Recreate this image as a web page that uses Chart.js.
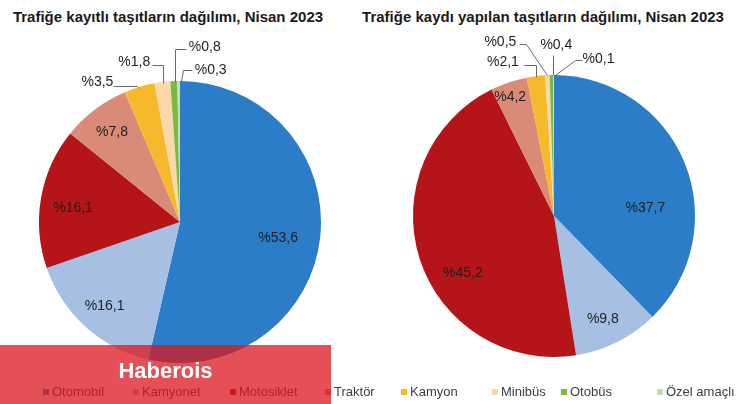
<!DOCTYPE html>
<html><head><meta charset="utf-8">
<script src="https://cdn.jsdelivr.net/npm/chart.js@4/dist/chart.umd.min.js"></script>
<style>
body{margin:0;background:#fff;width:750px;height:404px;overflow:hidden;position:relative;font-family:"Liberation Sans",Arial,sans-serif;}
canvas{position:absolute;top:0;}
.title{position:absolute;top:8px;font-weight:bold;font-size:15px;line-height:18px;color:#1a1a1a;white-space:nowrap;transform:translateX(-50%);}
.leg{position:absolute;top:384px;height:16px;font-size:13px;line-height:16px;color:#404040;white-space:nowrap;}
.leg i{display:inline-block;width:6px;height:6px;margin-right:3px;vertical-align:1px;}
.banner{position:absolute;left:0;top:345px;width:331px;height:59px;background:rgba(220,20,30,0.75);}
.banner span{position:absolute;left:0;right:0;top:13px;text-align:center;color:#fff;font-weight:bold;font-size:22px;line-height:26px;}
</style>
</head><body>
<div class="title" id="t1" style="left:168px"></div>
<div class="title" id="t2" style="left:543px"></div>
<canvas id="c1" width="375" height="404" style="left:0"></canvas>
<canvas id="c2" width="375" height="404" style="left:375px"></canvas>
<div id="legend"></div>
<div class="banner"><span>Haberois</span></div>
<script>
const TITLES = ["Trafiğe kayıtlı taşıtların dağılımı, Nisan 2023", "Trafiğe kaydı yapılan taşıtların dağılımı, Nisan 2023"];
const CATEGORIES = ["Otomobil","Kamyonet","Motosiklet","Traktör","Kamyon","Minibüs","Otobüs","Özel amaçlı"];
const REGISTERED = [53.6, 16.1, 16.1, 7.8, 3.5, 1.8, 0.8, 0.3];
const NEW_REGISTRATIONS = [37.7, 9.8, 45.2, 4.2, 2.1, 0.5, 0.4, 0.1];
const COLORS = ["#2a7dc6","#a6bfe3","#b51518","#d98b77","#f7b92c","#f9d9a9","#7cba3c","#c6dea9"];

// layout (label placement, not data)
const LEGEND_LEFT = [43, 133, 230, 325, 401, 492, 561, 657];
const LABELS_LEFT = [
  {f:0.70, dx:0, dy:5}, {f:0.80, dx:0, dy:0}, {f:0.77, dx:0, dy:5}, {f:0.80, dx:0, dy:0},
  {out:true, tx:-42, ty:-5, path:[[-26,-1],[-2,-1],[0,1]]},
  {out:true, tx:-28, ty:-20, path:[[-10,-17],[1,-17],[1,1]]},
  {out:true, tx:31, ty:-34, path:[[12,-32],[1,-32],[1,1]]},
  {out:true, tx:32, ty:-11, path:[[13,-11],[4,-11],[2,0]]}
];
const LABELS_RIGHT = [
  {f:0.70, dx:0, dy:29}, {f:0.82, dx:-3, dy:0}, {f:0.70, dx:3, dy:27}, {f:0.88, dx:-4, dy:-1},
  {out:true, tx:-33, ty:-14, path:[[-12,-11],[0,-11],[0,1]]},
  {out:true, tx:-47, ty:-33, path:[[-28,-31],[-21,-31],[0,0]]},
  {out:true, tx:5, ty:-30, path:[[2,-20],[2,0]]},
  {out:true, tx:45, ty:-16, path:[[28,-15],[21,-15],[1,0]]}
];

document.getElementById('t1').textContent = TITLES[0];
document.getElementById('t2').textContent = TITLES[1];
const legend = document.getElementById('legend');
CATEGORIES.forEach((c, i) => {
  const d = document.createElement('div');
  d.className = 'leg';
  d.style.left = LEGEND_LEFT[i] + 'px';
  d.innerHTML = '<i style="background:' + COLORS[i] + '"></i>' + c;
  legend.appendChild(d);
});

const fmt = v => '%' + v.toFixed(1).replace('.', ',');

const sliceLabels = {
  id: 'sliceLabels',
  afterDatasetsDraw(chart, args, opts) {
    const ctx = chart.ctx;
    const meta = chart.getDatasetMeta(0);
    const vals = chart.data.datasets[0].data;
    ctx.save();
    ctx.font = '14px "Liberation Sans", Arial, sans-serif';
    ctx.textAlign = 'center';
    ctx.textBaseline = 'middle';
    meta.data.forEach((arc, i) => {
      const p = arc.getProps(['x','y','startAngle','endAngle','outerRadius'], true);
      const mid = (p.startAngle + p.endAngle) / 2;
      const cx = Math.cos(mid), cy = Math.sin(mid);
      const L = opts.items[i];
      if (!L.out) {
        const x = p.x + cx * p.outerRadius * L.f + L.dx;
        const y = p.y + cy * p.outerRadius * L.f + L.dy;
        ctx.fillStyle = '#1f1f1f';
        ctx.fillText(fmt(vals[i]), x, y);
      } else {
        const ox = p.x + cx * p.outerRadius, oy = p.y + cy * p.outerRadius;
        ctx.strokeStyle = '#6b6b6b';
        ctx.lineWidth = 1;
        ctx.beginPath();
        L.path.forEach((pt, k) => {
          const px = Math.round(ox + pt[0]) + 0.5, py = Math.round(oy + pt[1]) + 0.5;
          if (k === 0) ctx.moveTo(px, py); else ctx.lineTo(px, py);
        });
        ctx.stroke();
        ctx.fillStyle = '#1f1f1f';
        ctx.fillText(fmt(vals[i]), ox + L.tx, oy + L.ty);
      }
    });
    ctx.restore();
  }
};

function makePie(id, values, padding, items) {
  return new Chart(document.getElementById(id), {
    type: 'pie',
    data: { labels: CATEGORIES, datasets: [{ data: values, backgroundColor: COLORS, borderWidth: 0, hoverOffset: 0 }] },
    options: {
      responsive: false, animation: false, events: [],
      layout: { padding: padding },
      plugins: { legend: { display: false }, tooltip: { enabled: false }, title: { display: false }, sliceLabels: { items: items } }
    },
    plugins: [sliceLabels]
  });
}
makePie('c1', REGISTERED, {left:39, right:54, top:81, bottom:41}, LABELS_LEFT);
makePie('c2', NEW_REGISTRATIONS, {left:38, right:55, top:75, bottom:47}, LABELS_RIGHT);
</script>
</body></html>
